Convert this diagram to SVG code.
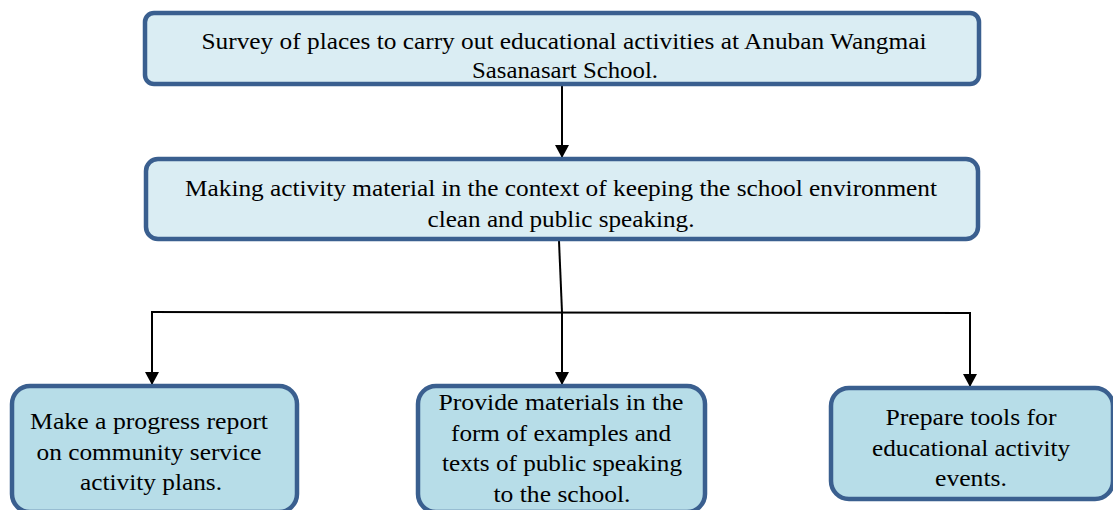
<svg xmlns="http://www.w3.org/2000/svg" width="1113" height="510" viewBox="0 0 1113 510">
<defs>
<marker id="arr" markerWidth="14" markerHeight="14" refX="12" refY="7" orient="auto" markerUnits="userSpaceOnUse">
<path d="M0,0 L13,7 L0,14 Z" fill="#000"/>
</marker>
<style>
.box{stroke:#3a5f8f;stroke-width:4.5}
.top{fill:#daedf3}
.bot{fill:#b7dde8}
text{font-family:"Liberation Serif","DejaVu Serif",serif;font-size:24px;fill:#000;text-anchor:middle}
.c{stroke:#000;stroke-width:2;fill:none}
</style>
</defs>
<g id="connectors">
<line class="c" x1="562" y1="85" x2="562" y2="157" marker-end="url(#arr)"/>
<line class="c" x1="559" y1="241" x2="562" y2="312"/>
<line class="c" x1="151" y1="312" x2="971" y2="313"/>
<line class="c" x1="152" y1="312" x2="152" y2="384" marker-end="url(#arr)"/>
<line class="c" x1="562" y1="312" x2="562" y2="384" marker-end="url(#arr)"/>
<line class="c" x1="970" y1="313" x2="970" y2="386" marker-end="url(#arr)"/>
</g>
<g id="node1">
<rect class="box top" x="145" y="13" width="834" height="71" rx="9"/>
<text x="564" y="49" textLength="725" lengthAdjust="spacingAndGlyphs">Survey of places to carry out educational activities at Anuban Wangmai</text>
<text x="565" y="78" textLength="186" lengthAdjust="spacingAndGlyphs">Sasanasart School.</text>
</g>
<g id="node2">
<rect class="box top" x="146" y="159" width="832" height="80" rx="12"/>
<text x="561" y="196" textLength="752" lengthAdjust="spacingAndGlyphs">Making activity material in the context of keeping the school environment</text>
<text x="561" y="227" textLength="267" lengthAdjust="spacingAndGlyphs">clean and public speaking.</text>
</g>
<g id="node3">
<rect class="box bot" x="12" y="386" width="285" height="126" rx="18"/>
<text x="149" y="429" textLength="238" lengthAdjust="spacingAndGlyphs">Make a progress report</text>
<text x="149" y="460" textLength="225" lengthAdjust="spacingAndGlyphs">on community service</text>
<text x="151" y="490" textLength="142" lengthAdjust="spacingAndGlyphs">activity plans.</text>
</g>
<g id="node4">
<rect class="box bot" x="418" y="386" width="287" height="126" rx="18"/>
<text x="561" y="410" textLength="245" lengthAdjust="spacingAndGlyphs">Provide materials in the</text>
<text x="561" y="441" textLength="220" lengthAdjust="spacingAndGlyphs">form of examples and</text>
<text x="562" y="471" textLength="240" lengthAdjust="spacingAndGlyphs">texts of public speaking</text>
<text x="562" y="502" textLength="137" lengthAdjust="spacingAndGlyphs">to the school.</text>
</g>
<g id="node5">
<rect class="box bot" x="831" y="388" width="282" height="111" rx="18"/>
<text x="971" y="425" textLength="171" lengthAdjust="spacingAndGlyphs">Prepare tools for</text>
<text x="971" y="456" textLength="198" lengthAdjust="spacingAndGlyphs">educational activity</text>
<text x="971" y="486" textLength="72" lengthAdjust="spacingAndGlyphs">events.</text>
</g>
</svg>
